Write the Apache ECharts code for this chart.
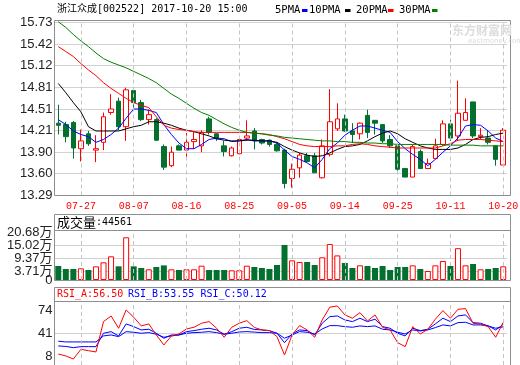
<!DOCTYPE html>
<html><head><meta charset="utf-8">
<script src="https://cdn.jsdelivr.net/npm/echarts@6/dist/echarts.min.js"></script>
<style>html,body{margin:0;padding:0;background:#fff}#c{width:520px;height:365px}</style>
</head><body><div id="c"></div>
<script>
const dates = ['07-24','07-25','07-26','07-27','07-28','07-31',
'08-01','08-02','08-03','08-04','08-07','08-08','08-09','08-10','08-11','08-14','08-15','08-16','08-17','08-18','08-21','08-22','08-23','08-24','08-25','08-28','08-29','08-30','08-31',
'09-01','09-04','09-05','09-06','09-07','09-08','09-11','09-12','09-13','09-14','09-15','09-18','09-19','09-20','09-21','09-22','09-25','09-26','09-27','09-28','09-29',
'10-09','10-10','10-11','10-12','10-13','10-16','10-17','10-18','10-19','10-20'];
const labelDates = ['07-27','08-07','08-16','08-25','09-05','09-14','09-25','10-11','10-20'];
// [open, close, low, high]
const kData = [
[14.31,14.28,14.15,14.57],[14.29,14.12,14.04,14.33],[14.32,13.96,13.81,14.34],[13.95,14.06,13.77,14.22],
[14.16,14.02,13.99,14.20],[13.93,13.95,13.76,14.14],[14.04,14.40,13.93,14.46],[14.46,14.51,14.43,14.72],
[14.62,14.26,14.21,14.67],[14.26,14.78,14.06,14.81],[14.77,14.60,14.50,14.78],[14.60,14.36,14.34,14.64],
[14.36,14.43,14.29,14.50],[14.36,14.07,14.06,14.38],[13.98,13.69,13.65,14.01],[13.71,13.90,13.69,13.98],
[13.99,13.93,13.93,14.01],[13.93,14.04,13.80,14.17],[14.05,14.08,13.95,14.20],[13.99,14.18,13.90,14.21],
[14.37,14.18,14.15,14.40],[14.16,14.09,14.06,14.17],[13.99,13.91,13.84,14.06],[13.85,13.96,13.84,13.98],
[13.88,14.08,13.87,14.10],[14.10,14.13,14.06,14.35],[14.20,14.06,13.94,14.24],[14.08,14.03,14.01,14.09],
[14.07,14.01,13.98,14.08],[14.01,13.92,13.91,14.03],[13.93,13.46,13.39,13.95],[13.53,13.66,13.40,13.74],
[13.68,13.86,13.54,13.89],[13.85,13.77,13.77,13.89],[13.85,13.61,13.61,13.89],[13.54,13.99,13.53,14.08],
[13.87,14.33,13.84,14.79],[14.23,14.37,14.20,14.59],[14.37,14.20,14.19,14.43],[14.20,14.15,14.03,14.31],
[14.16,14.31,14.08,14.32],[14.42,14.18,14.10,14.50],[14.35,14.31,14.15,14.35],[14.29,14.06,14.03,14.29],
[14.08,13.99,13.96,14.14],[13.99,13.66,13.60,14.03],[13.67,13.55,13.55,13.68],[13.55,13.98,13.55,14.01],
[13.91,13.67,13.67,13.94],[13.67,13.74,13.67,13.81],[13.81,13.99,13.81,14.09],[14.01,14.30,13.99,14.35],
[14.30,14.10,14.06,14.36],[14.13,14.45,14.06,14.91],[14.35,14.46,14.35,14.66],[14.61,14.13,14.10,14.61],
[14.12,14.14,14.08,14.24],[14.10,14.04,14.01,14.20],[13.99,13.80,13.71,13.99],[13.72,14.21,13.72,14.24]];
const ma5 = [14.36,14.29,14.20,14.15,14.12,14.04,14.08,14.15,14.24,14.38,14.51,14.51,14.49,14.46,14.29,14.15,14.03,13.95,13.95,14.01,
14.08,14.10,14.09,14.05,14.06,14.08,14.06,14.06,14.06,14.03,13.93,13.84,13.80,13.75,13.68,13.80,13.95,14.03,14.14,14.21,
14.27,14.27,14.24,14.21,14.18,14.05,13.95,13.87,13.80,13.71,13.80,13.90,13.99,14.10,14.27,14.29,14.28,14.20,14.10,14.05];
const ma10 = [14.87,14.74,14.60,14.47,14.26,14.20,14.20,14.20,14.20,14.23,14.26,14.28,14.33,14.33,14.31,14.28,14.24,14.21,14.19,14.16,
14.13,14.09,14.07,14.06,14.06,14.07,14.07,14.06,14.06,14.04,13.98,13.93,13.89,13.86,13.84,13.85,13.89,13.94,13.98,13.99,
14.01,14.06,14.12,14.17,14.20,14.16,14.09,14.04,13.99,13.96,13.94,13.94,13.94,13.96,14.01,14.08,14.11,14.12,14.15,14.17];
const ma20 = [15.39,15.32,15.25,15.15,15.06,14.98,14.88,14.80,14.73,14.66,14.60,14.56,14.53,14.40,14.28,14.24,14.22,14.21,14.19,14.18,
14.18,14.18,14.18,14.18,14.18,14.18,14.17,14.16,14.15,14.12,14.09,14.05,14.01,13.99,13.98,13.98,13.98,13.99,13.99,14.01,
14.02,14.01,13.99,13.98,13.97,13.96,13.96,13.96,13.96,13.96,13.96,13.99,14.02,14.07,14.08,14.08,14.08,14.07,14.06,14.05];
const ma30 = [15.74,15.66,15.56,15.47,15.39,15.30,15.22,15.17,15.13,15.09,15.04,14.99,14.94,14.88,14.80,14.72,14.66,14.59,14.52,14.46,
14.42,14.36,14.30,14.25,14.21,14.18,14.17,14.16,14.14,14.13,14.11,14.10,14.09,14.08,14.07,14.06,14.06,14.05,14.05,14.04,
14.04,14.03,14.03,14.02,14.02,14.01,14.01,14.01,14.01,14.01,14.01,14.01,14.00,14.00,14.00,14.00,13.99,13.99,13.99,13.99];
// volume in 万
const volume = [6.03,4.74,4.74,5.03,4.31,5.89,7.61,10.2,5.89,18.4,5.89,5.17,4.6,5.6,6.3,4.6,4.31,4.6,4.6,6.17,
4.31,4.31,4.31,4.17,4.17,6.17,5.6,5.17,4.74,6.47,15.1,8.48,7.76,7.76,6.47,9.77,15.5,10.6,7.33,5.17,
6.32,6.03,5.17,6.03,4.31,5.6,5.6,6.32,4.74,3.88,6.32,8.19,6.03,13.7,6.32,6.9,4.6,4.74,5.17,5.89];
const rsiA = [11.6,8.8,4.5,18.3,16.3,14.5,57.5,65.5,48.1,74.0,63.7,51.4,54.2,38.6,24.4,37.2,40.0,47.1,49.5,55.2,
57.5,48.1,35.3,49.5,55.2,58.9,49.2,45.7,44.7,36.2,10.2,38.6,51.8,45.7,35.3,59.9,77.9,79.7,67.0,62.3,
70.2,58.4,67.0,49.5,45.7,27.7,22.0,50.4,40.0,46.7,60.9,73.1,62.3,75.0,75.9,55.2,53.8,50.4,35.3,56.5];
const rsiB = [23.0,22.3,20.6,22.0,22.0,22.0,41.0,43.3,37.2,54.2,50.4,45.7,46.7,41.0,33.9,38.6,38.6,43.3,44.7,46.7,
48.1,45.7,39.6,43.3,48.1,49.5,46.4,45.7,44.7,41.0,27.7,40.0,45.7,44.7,38.6,55.2,64.5,65.5,59.9,57.5,
62.3,57.5,60.9,50.4,48.1,41.0,37.2,48.1,44.7,46.7,54.2,62.3,57.5,65.5,67.0,56.0,55.2,51.4,45.7,53.55];
const rsiC = [29.7,28.7,28.7,28.7,28.7,28.7,37.2,38.6,36.2,43.3,42.4,41.0,41.9,39.6,35.3,37.2,38.6,41.0,41.9,42.4,
43.3,41.9,39.6,41.0,42.8,43.3,42.6,41.9,41.9,41.0,33.9,38.6,43.3,42.4,40.0,47.1,51.8,51.8,50.4,49.5,
51.4,50.4,51.4,46.7,45.7,42.4,40.0,45.7,44.3,45.7,49.0,52.8,51.4,56.0,56.6,52.8,52.8,51.4,48.1,50.12];
const priceTicks = [13.29,13.60,13.90,14.21,14.51,14.81,15.12,15.42,15.73];
const volTicks = [3.71,9.37,15.02,20.68];
const volZero = [0];
const rsiTicks = [8,41,74];

const UP = '#ff0000', DOWN = '#04702f', GRIDC = '#d2d2d2', FRAME = '#8e8e8e', DASH = '#c4c4c4';
const L = 54.5, W = 452.5;
const mono = '"DejaVu Sans Mono","Noto Sans CJK SC"';

function vlines() {
  return { silent: true, symbol: 'none', animation: false, label: { show: false },
    lineStyle: { color: DASH, type: [4, 3], width: 1 },
    data: labelDates.map(d => ({ xAxis: d })) };
}
function xAx(gi, showLabel) {
  return { type: 'category', gridIndex: gi, data: dates, boundaryGap: true,
    axisLine: { show: false }, axisTick: { show: false }, splitLine: { show: false },
    axisLabel: { show: showLabel, interval: (i, v) => labelDates.indexOf(dates[i]) >= 0,
      color: '#ff0000', fontFamily: '"Liberation Mono"', fontSize: 10, margin: 6 } };
}
const labelStyle = { color: '#222', fontFamily: '"Liberation Sans","Noto Sans CJK SC"', fontSize: 13, margin: 2,
  showMinLabel: true, showMaxLabel: true, hideOverlap: false };

const chart = echarts.init(document.getElementById('c'), null, { renderer: 'canvas' });
const option = {
  animation: false,
  backgroundColor: '#fff',
  grid: [
    { left: L, top: 20.7, width: W, height: 174.8, outerBoundsMode: 'none' },
    { left: L, top: 232, width: W, height: 48, outerBoundsMode: 'none' },
    { left: L, top: 301.5, width: W, height: 63.5, outerBoundsMode: 'none' }
  ],
  xAxis: [xAx(0, true), xAx(1, false), xAx(2, false)],
  yAxis: [
    { type: 'value', gridIndex: 0, min: 13.29, max: 15.755, axisLine: { show: false },
      axisTick: { show: false, customValues: priceTicks },
      axisLabel: Object.assign({ customValues: priceTicks, formatter: v => v.toFixed(2) }, labelStyle),
      splitLine: { show: true, lineStyle: { color: GRIDC, width: 1 } } },
    { type: 'value', gridIndex: 1, min: 0, max: 20.68, axisLine: { show: false },
      axisTick: { show: false, customValues: volTicks.slice(0, 3) },
      axisLabel: Object.assign({ customValues: volTicks, formatter: v => v.toFixed(2) + '万' }, labelStyle),
      splitLine: { show: true, lineStyle: { color: GRIDC, width: 1 } } },
    { type: 'value', gridIndex: 2, min: -4, max: 86, axisLine: { show: false },
      axisTick: { show: false, customValues: [41] },
      axisLabel: Object.assign({ customValues: rsiTicks, formatter: v => String(v) }, labelStyle),
      splitLine: { show: true, lineStyle: { color: GRIDC, width: 1 } } },
    { type: 'value', gridIndex: 1, min: 0, max: 20.68, position: 'left', offset: 0, axisLine: { show: false },
      axisTick: { show: false, customValues: volZero },
      axisLabel: Object.assign({ customValues: volZero, formatter: v => String(v) }, labelStyle),
      splitLine: { show: false } }
  ],
  series: [
    { type: 'candlestick', xAxisIndex: 0, yAxisIndex: 0, data: kData, barWidth: 5, z: 2,
      itemStyle: { color: '#fff', color0: DOWN, borderColor: UP, borderColor0: DOWN, borderWidth: 1, borderColorDoji: UP },
      markLine: vlines() },
    { type: 'line', name: '5PMA', xAxisIndex: 0, yAxisIndex: 0, data: ma5, showSymbol: false, z: 3, lineStyle: { color: '#0000ff', width: 1 } },
    { type: 'line', name: '10PMA', xAxisIndex: 0, yAxisIndex: 0, data: ma10, showSymbol: false, z: 3, lineStyle: { color: '#000000', width: 1 } },
    { type: 'line', name: '20PMA', xAxisIndex: 0, yAxisIndex: 0, data: ma20, showSymbol: false, z: 3, lineStyle: { color: '#ff0000', width: 1 } },
    { type: 'line', name: '30PMA', xAxisIndex: 0, yAxisIndex: 0, data: ma30, showSymbol: false, z: 3, lineStyle: { color: '#008000', width: 1 } },
    { type: 'bar', xAxisIndex: 1, yAxisIndex: 1, barWidth: 6, z: 2,
      data: volume.map((v, i) => ({ value: v, itemStyle: kData[i][1] >= kData[i][0]
        ? { color: '#fff', borderColor: UP, borderWidth: 1 } : { color: DOWN } })),
      markLine: vlines() },
    { type: 'line', xAxisIndex: 2, yAxisIndex: 2, data: rsiC, showSymbol: false, z: 3, lineStyle: { color: '#0000ff', width: 1 }, markLine: vlines() },
    { type: 'line', xAxisIndex: 2, yAxisIndex: 2, data: rsiB, showSymbol: false, z: 3, lineStyle: { color: '#0000ff', width: 1 } },
    { type: 'line', xAxisIndex: 2, yAxisIndex: 2, data: rsiA, showSymbol: false, z: 4, lineStyle: { color: '#ff0000', width: 1 } }
  ],
  graphic: [
    { type: 'rect', z: 100, shape: { x: 54.5, y: 20.5, width: 456, height: 175 }, style: { fill: 'none', stroke: FRAME, lineWidth: 1 } },
    { type: 'rect', z: 100, shape: { x: 54.5, y: 214.5, width: 456, height: 66 }, style: { fill: 'none', stroke: FRAME, lineWidth: 1 } },
    { type: 'line', z: 100, shape: { x1: 54.5, y1: 230.5, x2: 510.5, y2: 230.5 }, style: { stroke: FRAME, lineWidth: 1 } },
    { type: 'rect', z: 100, shape: { x: 54.5, y: 287.5, width: 456, height: 80 }, style: { fill: 'none', stroke: FRAME, lineWidth: 1 } },
    { type: 'line', z: 100, shape: { x1: 54.5, y1: 301.5, x2: 510.5, y2: 301.5 }, style: { stroke: FRAME, lineWidth: 1 } },
    { type: 'text', z: 100, x: 57, y: 9.5, style: { text: '浙江众成[002522] 2017-10-20 15:00', font: '10px ' + mono, fill: '#000', verticalAlign: 'middle' } },
    { type: 'text', z: 100, x: 275, y: 10, style: { text: '5PMA', font: '10.5px ' + mono, fill: '#000', verticalAlign: 'middle' } },
    { type: 'rect', z: 100, shape: { x: 302, y: 9, width: 5.5, height: 3 }, style: { fill: '#0000ff' } },
    { type: 'text', z: 100, x: 309, y: 10, style: { text: '10PMA', font: '10.5px ' + mono, fill: '#000', verticalAlign: 'middle' } },
    { type: 'rect', z: 100, shape: { x: 345, y: 9, width: 5.5, height: 3 }, style: { fill: '#000000' } },
    { type: 'text', z: 100, x: 356, y: 10, style: { text: '20PMA', font: '10.5px ' + mono, fill: '#000', verticalAlign: 'middle' } },
    { type: 'rect', z: 100, shape: { x: 388, y: 9, width: 5.5, height: 3 }, style: { fill: '#ff0000' } },
    { type: 'text', z: 100, x: 399, y: 10, style: { text: '30PMA', font: '10.5px ' + mono, fill: '#000', verticalAlign: 'middle' } },
    { type: 'rect', z: 100, shape: { x: 432, y: 9, width: 5.5, height: 3 }, style: { fill: '#008000' } },
    { type: 'text', z: 100, x: 452, y: 30, style: { text: '东方财富网', font: 'bold 12px "Noto Sans CJK SC"', fill: '#dcdcdc', verticalAlign: 'middle' } },
    { type: 'text', z: 100, x: 468, y: 41, style: { text: 'eastmoney.com', font: '7px "DejaVu Sans"', fill: '#dcdcdc', verticalAlign: 'middle' } },
    { type: 'text', z: 100, x: 57, y: 222.5, style: { text: '{a|成交量}{b|:44561}', fill: '#000', verticalAlign: 'middle',
      rich: { a: { font: '13px "Noto Sans CJK SC"', fill: '#000' }, b: { font: '10px ' + mono, fill: '#000' } } } },
    { type: 'text', z: 100, x: 57, y: 294.5, style: { text: 'RSI_A:56.50', font: '10px ' + mono, fill: '#ff0000', verticalAlign: 'middle' } },
    { type: 'text', z: 100, x: 128, y: 294.5, style: { text: 'RSI_B:53.55', font: '10px ' + mono, fill: '#0000ff', verticalAlign: 'middle' } },
    { type: 'text', z: 100, x: 200.5, y: 294.5, style: { text: 'RSI_C:50.12', font: '10px ' + mono, fill: '#0000ff', verticalAlign: 'middle' } }
  ]
};
chart.setOption(option);
</script></body></html>
